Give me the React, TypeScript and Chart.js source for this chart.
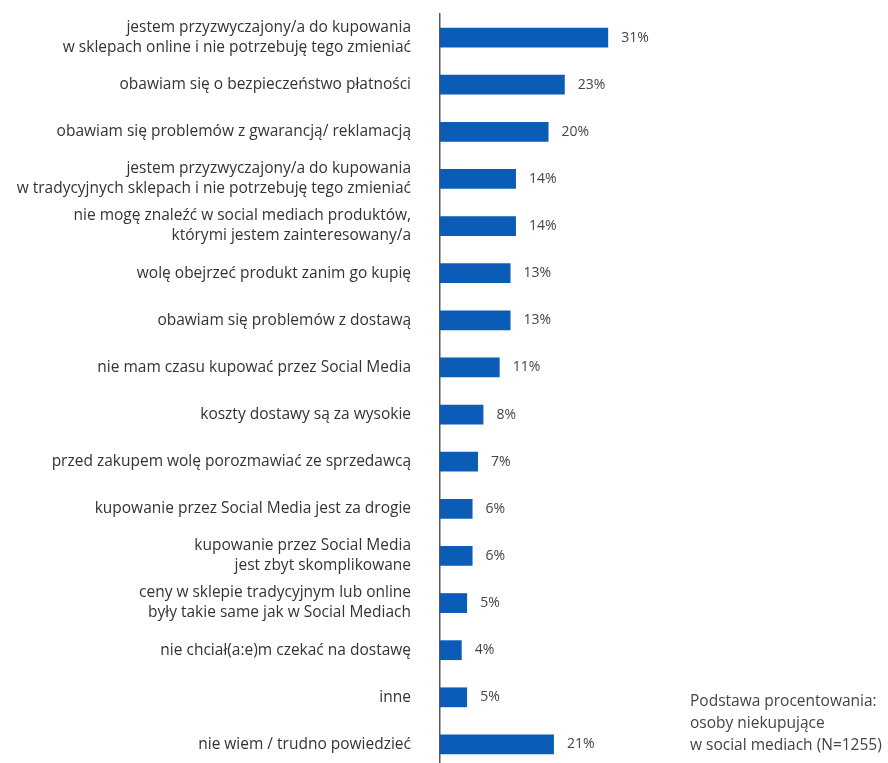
import React, { useEffect, useRef } from "react";
import { Chart, registerables } from "chart.js";

Chart.register(...registerables);

const categories: string[][] = [
  ["jestem przyzwyczajony/a do kupowania", "w sklepach online i nie potrzebuję tego zmieniać"],
  ["obawiam się o bezpieczeństwo płatności"],
  ["obawiam się problemów z gwarancją/ reklamacją"],
  ["jestem przyzwyczajony/a do kupowania", "w tradycyjnych sklepach i nie potrzebuję tego zmieniać"],
  ["nie mogę znaleźć w social mediach produktów,", "którymi jestem zainteresowany/a"],
  ["wolę obejrzeć produkt zanim go kupię"],
  ["obawiam się problemów z dostawą"],
  ["nie mam czasu kupować przez Social Media"],
  ["koszty dostawy są za wysokie"],
  ["przed zakupem wolę porozmawiać ze sprzedawcą"],
  ["kupowanie przez Social Media jest za drogie"],
  ["kupowanie przez Social Media", "jest zbyt skomplikowane"],
  ["ceny w sklepie tradycyjnym lub online", "były takie same jak w Social Mediach"],
  ["nie chciał(a:e)m czekać na dostawę"],
  ["inne"],
  ["nie wiem / trudno powiedzieć"],
];

const values: number[] = [31, 23, 20, 14, 14, 13, 13, 11, 8, 7, 6, 6, 5, 4, 5, 21];

const noteLines: string[] = [
  "Podstawa procentowania:",
  "osoby niekupujące",
  "w social mediach (N=1255)",
];

const FONT = "'Open Sans', 'DejaVu Sans', sans-serif";

const valueLabels = {
  id: "valueLabels",
  afterDatasetsDraw(chart: any) {
    const ctx = chart.ctx;
    const meta = chart.getDatasetMeta(0);
    ctx.save();
    ctx.font = `14px ${FONT}`;
    ctx.fillStyle = "#444";
    ctx.textAlign = "left";
    ctx.textBaseline = "middle";
    meta.data.forEach((bar: any, i: number) => {
      ctx.fillText(values[i] + "%", bar.x + 13, bar.y);
    });
    ctx.restore();
  },
};

const note = {
  id: "note",
  afterDraw(chart: any) {
    const ctx = chart.ctx;
    ctx.save();
    ctx.font = `15.5px ${FONT}`;
    ctx.fillStyle = "#444";
    ctx.textAlign = "left";
    ctx.textBaseline = "middle";
    noteLines.forEach((t, i) => ctx.fillText(t, 690, 702 + i * 22));
    ctx.restore();
  },
};

export default function App() {
  const ref = useRef<HTMLCanvasElement | null>(null);
  useEffect(() => {
    document.body.style.margin = "0";
    const chart = new Chart(ref.current!, {
      type: "bar",
      data: {
        labels: categories,
        datasets: [
          {
            data: values,
            backgroundColor: "#0b5cb7",
            barPercentage: 0.42,
            categoryPercentage: 1,
          },
        ],
      },
      options: {
        indexAxis: "y",
        animation: false,
        responsive: false,
        maintainAspectRatio: false,
        layout: { padding: { left: 0, right: 14, top: 14, bottom: 0 } },
        plugins: { legend: { display: false }, tooltip: { enabled: false } },
        scales: {
          x: { display: false, min: 0, max: 80 },
          y: {
            afterFit: (s: any) => {
              s.width = 440;
              s.paddingTop = 0;
              s.paddingBottom = 0;
            },
            grid: { display: false, drawTicks: false },
            border: { display: true, color: "#555", width: 1.5 },
            ticks: {
              padding: 29,
              color: "#333",
              font: { family: FONT, size: 15.5, lineHeight: "20px" as any },
              autoSkip: false,
            },
          },
        },
      },
      plugins: [valueLabels, note],
    });
    return () => chart.destroy();
  }, []);
  return (
    <div style={{ position: "absolute", left: 0, top: 0, width: 888, height: 763, overflow: "hidden", background: "#fff" }}>
      <canvas ref={ref} width={888} height={768} style={{ display: "block" }} />
    </div>
  );
}
